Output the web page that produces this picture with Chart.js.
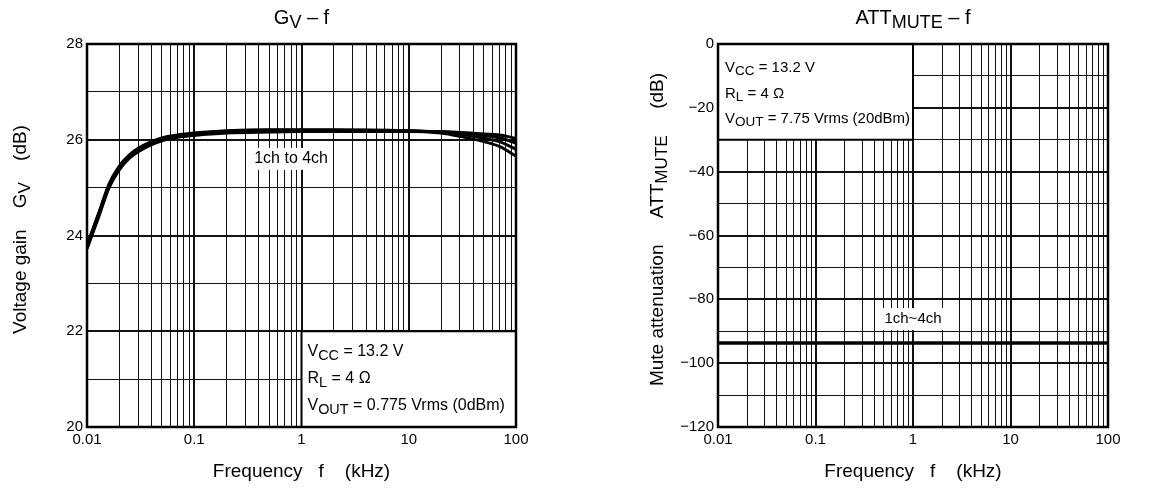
<!DOCTYPE html>
<html>
<head>
<meta charset="utf-8">
<script src="https://cdn.jsdelivr.net/npm/chart.js@4.4.1/dist/chart.umd.min.js"></script>
<style>
body { margin: 0; background: #fff; }
#wrap { position: relative; width: 1173px; height: 491px; }
canvas { position: absolute; top: 0; }
</style>
</head>
<body>
<div id="wrap">
  <canvas id="gv" width="586" height="491" style="left:0"></canvas>
  <canvas id="att" width="587" height="491" style="left:586px"></canvas>
</div>
<script>
// values
const freqGv = [0.01, 0.013, 0.016, 0.02, 0.025, 0.03, 0.04, 0.05, 0.07, 0.1, 0.2, 0.5, 1, 2, 5, 10, 20, 30, 50, 70, 100];
const gvCh1 = [23.72, 24.42, 24.99, 25.37, 25.62, 25.75, 25.9, 25.98, 26.05, 26.09, 26.14, 26.16, 26.17, 26.17, 26.17, 26.17, 26.16, 26.15, 26.12, 26.1, 26.03];
const gvCh2 = [23.75, 24.45, 25.02, 25.4, 25.65, 25.78, 25.92, 26.0, 26.07, 26.11, 26.16, 26.18, 26.19, 26.19, 26.19, 26.18, 26.17, 26.15, 26.09, 26.04, 25.93];
const gvCh3 = [23.78, 24.48, 25.05, 25.43, 25.67, 25.8, 25.94, 26.02, 26.09, 26.13, 26.18, 26.2, 26.2, 26.2, 26.2, 26.19, 26.16, 26.12, 26.03, 25.96, 25.8];
const gvCh4 = [23.8, 24.5, 25.07, 25.45, 25.69, 25.82, 25.96, 26.04, 26.1, 26.14, 26.19, 26.21, 26.21, 26.21, 26.2, 26.19, 26.14, 26.07, 25.96, 25.86, 25.66];

const freqAtt = [0.01, 0.1, 1, 10, 100];
const attCh = [-93.7, -93.7, -93.7, -93.7, -93.7];

const decadeLabels = ['0.01', '0.1', '1', '10', '100'];
const gvTickLabels = [20, 22, 24, 26, 28];
const attTickLabels = [-120, -100, -80, -60, -40, -20, 0];

const FONT = '"Liberation Sans", Arial, sans-serif';
const SUB = 0.9;

// log ticks 1..9 per decade
let xTicks = [];
for (let d = -2; d < 2; d++) {
    for (let m = 1; m < 10; m++) {
        xTicks.push(+(m * Math.pow(10, d)).toPrecision(3));
    }
}
xTicks.push(100);

const isDecade = v => Math.abs(Math.log10(v) - Math.round(Math.log10(v))) < 1e-6;

// text with subscripts, parts = [[text, sub], ...]
function richWidth(ctx, parts, size) {
    let w = 0;
    for (const p of parts) {
        ctx.font = (p[1] ? size * SUB : size) + 'px ' + FONT;
        w += ctx.measureText(p[0]).width;
    }
    return w;
}
function richText(ctx, parts, x, y, size, align) {
    let w = richWidth(ctx, parts, size);
    let cx = align === 'center' ? x - w / 2 : x;
    ctx.fillStyle = '#000';
    ctx.textAlign = 'left';
    ctx.textBaseline = 'alphabetic';
    for (const p of parts) {
        ctx.font = (p[1] ? size * SUB : size) + 'px ' + FONT;
        ctx.fillText(p[0], cx, p[1] ? y + size * 0.22 : y);
        cx += ctx.measureText(p[0]).width;
    }
}

function makeDecor(cfg) {
    return {
        id: 'decor',
        beforeDatasetsDraw(chart) {
            const ctx = chart.ctx;
            const xs = chart.scales.x, ys = chart.scales.y;
            ctx.save();
            // info box
            const b = cfg.box;
            const bx0 = xs.getPixelForValue(b.x0), bx1 = xs.getPixelForValue(b.x1);
            const by0 = ys.getPixelForValue(b.y0), by1 = ys.getPixelForValue(b.y1);
            ctx.fillStyle = '#fff';
            ctx.fillRect(bx0, by0, bx1 - bx0, by1 - by0);
            ctx.strokeStyle = '#000';
            ctx.lineWidth = 2;
            ctx.strokeRect(bx0, by0, bx1 - bx0, by1 - by0);
            b.lines.forEach((ln, i) => {
                richText(ctx, ln, bx0 + b.dx, by0 + b.dy + i * b.gap, b.size, 'left');
            });
            // channel label
            const l = cfg.label;
            const lx = xs.getPixelForValue(l.x), ly = ys.getPixelForValue(l.y);
            ctx.font = l.size + 'px ' + FONT;
            const lw = ctx.measureText(l.text).width;
            ctx.fillStyle = '#fff';
            ctx.fillRect(lx - lw / 2 - 4, ly - 11, lw + 8, 22);
            ctx.fillStyle = '#000';
            ctx.textAlign = 'center';
            ctx.textBaseline = 'middle';
            ctx.fillText(l.text, lx, ly);
            ctx.restore();
        },
        afterDraw(chart) {
            const ctx = chart.ctx;
            const a = chart.chartArea;
            ctx.save();
            ctx.strokeStyle = '#000';
            ctx.lineWidth = 2.5;
            ctx.strokeRect(a.left, a.top, a.right - a.left, a.bottom - a.top);
            const mid = (a.left + a.right) / 2;
            richText(ctx, cfg.title, mid, 24, 20, 'center');
            richText(ctx, [['Frequency   f    (kHz)', false]], mid, 477, 19, 'center');
            ctx.translate(cfg.yTitleX, (a.top + a.bottom) / 2 - 6);
            ctx.rotate(-Math.PI / 2);
            richText(ctx, cfg.yTitle, 0, 0, 19, 'center');
            ctx.restore();
        }
    };
}

function xScale() {
    return {
        type: 'logarithmic',
        min: 0.01,
        max: 100,
        afterBuildTicks: s => { s.ticks = xTicks.map(v => ({ value: v })); },
        afterFit: s => { s.height = 30; },
        border: { display: false },
        grid: {
            color: '#111',
            drawTicks: false,
            lineWidth: c => (c.tick && isDecade(c.tick.value)) ? 2 : 1
        },
        ticks: {
            autoSkip: false,
            maxRotation: 0,
            padding: 4,
            color: '#000',
            font: { family: FONT, size: 15 },
            callback: v => isDecade(v) ? decadeLabels[Math.round(Math.log10(v)) + 2] : ''
        }
    };
}

function lineSet(data, w) {
    return {
        data: data,
        borderColor: '#000',
        borderWidth: w,
        pointRadius: 0,
        fill: false,
        cubicInterpolationMode: 'monotone'
    };
}

const gvLines = [gvCh1, gvCh2, gvCh3, gvCh4].map(ch => lineSet(ch.map((g, i) => ({ x: freqGv[i], y: g })), 3));

new Chart(document.getElementById('gv'), {
    type: 'line',
    data: { datasets: gvLines },
    options: {
        responsive: false,
        animation: false,
        layout: { padding: { left: 47, right: 70, top: 44, bottom: 34 } },
        plugins: { legend: { display: false }, tooltip: { enabled: false } },
        scales: {
            x: xScale(),
            y: {
                min: 20,
                max: 28,
                afterFit: s => { s.width = 40; },
                border: { display: false },
                grid: {
                    color: '#111',
                    drawTicks: false,
                    lineWidth: c => (c.tick && gvTickLabels.includes(c.tick.value)) ? 2 : 1
                },
                ticks: {
                    stepSize: 1,
                    padding: 4,
                    color: '#000',
                    font: { family: FONT, size: 15 },
                    callback: v => gvTickLabels.includes(v) ? String(v) : ''
                }
            }
        }
    },
    plugins: [makeDecor({
        title: [['G', false], ['V', true], [' \u2013 f', false]],
        yTitle: [['Voltage gain    G', false], ['V', true], ['    (dB)', false]],
        yTitleX: 26,
        box: {
            x0: 1, x1: 100, y0: 22, y1: 20, dx: 6, dy: 25, gap: 27, size: 16,
            lines: [
                [['V', false], ['CC', true], [' = 13.2 V', false]],
                [['R', false], ['L', true], [' = 4 \u03a9', false]],
                [['V', false], ['OUT', true], [' = 0.775 Vrms (0dBm)', false]]
            ]
        },
        label: { text: '1ch to 4ch', x: 0.8, y: 25.6, size: 16 }
    })]
});

const attLines = [lineSet(attCh.map((g, i) => ({ x: freqAtt[i], y: g })), 3.5)];

new Chart(document.getElementById('att'), {
    type: 'line',
    data: { datasets: attLines },
    options: {
        responsive: false,
        animation: false,
        layout: { padding: { left: 92, right: 65, top: 44, bottom: 34 } },
        plugins: { legend: { display: false }, tooltip: { enabled: false } },
        scales: {
            x: xScale(),
            y: {
                min: -120,
                max: 0,
                afterFit: s => { s.width = 40; },
                border: { display: false },
                grid: {
                    color: '#111',
                    drawTicks: false,
                    lineWidth: c => (c.tick && attTickLabels.includes(c.tick.value)) ? 2 : 1
                },
                ticks: {
                    stepSize: 10,
                    padding: 4,
                    color: '#000',
                    font: { family: FONT, size: 15 },
                    callback: v => attTickLabels.includes(v) ? (v < 0 ? '\u2212' + Math.abs(v) : String(v)) : ''
                }
            }
        }
    },
    plugins: [makeDecor({
        title: [['ATT', false], ['MUTE', true], [' \u2013 f', false]],
        yTitle: [['Mute attenuation     ATT', false], ['MUTE', true], ['     (dB)', false]],
        yTitleX: 77,
        box: {
            x0: 0.01, x1: 1, y0: 0, y1: -30, dx: 7, dy: 28, gap: 25.5, size: 15,
            lines: [
                [['V', false], ['CC', true], [' = 13.2 V', false]],
                [['R', false], ['L', true], [' = 4 \u03a9', false]],
                [['V', false], ['OUT', true], [' = 7.75 Vrms (20dBm)', false]]
            ]
        },
        label: { text: '1ch~4ch', x: 1, y: -86.2, size: 15 }
    })]
});
</script>
</body>
</html>
